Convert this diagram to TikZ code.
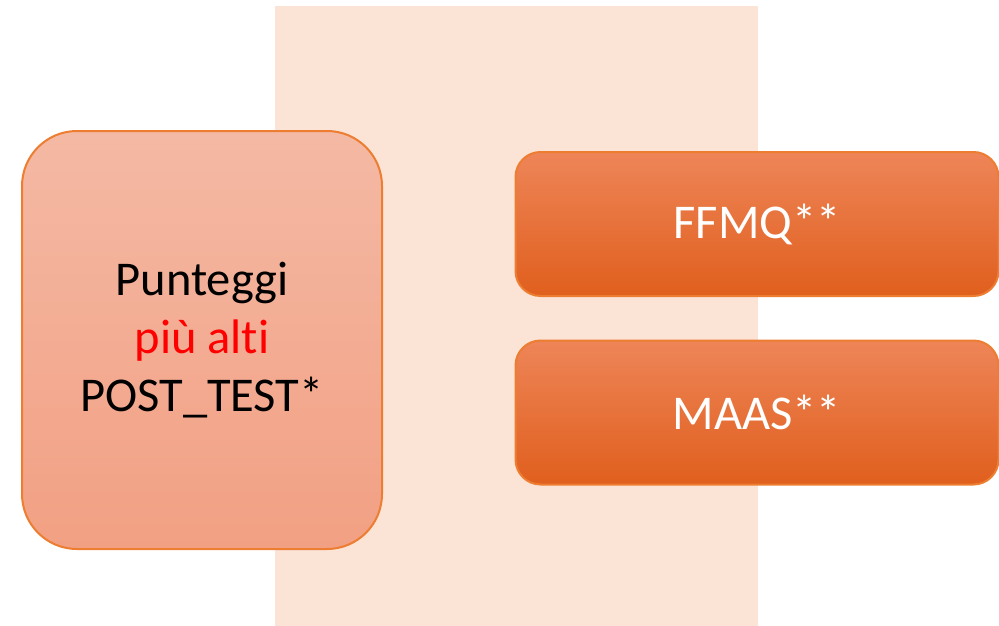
\documentclass[tikz,border=0pt]{standalone}
\usepackage{fontspec}
\setmainfont{Carlito}[Ligatures=NoCommon]
\definecolor{peach}{HTML}{FBE3D6}
\definecolor{edgeor}{HTML}{ED7D31}
\definecolor{ltop}{HTML}{F4B9A4}
\definecolor{lbot}{HTML}{F2A083}
\definecolor{rtop}{HTML}{EE8558}
\definecolor{rmid}{HTML}{F26D2B}
\definecolor{rbot}{HTML}{E05F1D}
\definecolor{redtxt}{HTML}{FF0000}
\tikzset{
  bigbox/.style={draw=edgeor, line width=2pt, rounded corners=55pt, top color=ltop, bottom color=lbot,
    minimum width=360pt, minimum height=418pt, outer sep=0pt, inner sep=0pt, align=center,
    font=\fontsize{48.5}{58}\selectfont, text=black},
  rbox/.style={draw=edgeor, line width=2pt, rounded corners=25pt, top color=rtop, middle color=rmid, bottom color=rbot,
    minimum width=483pt, minimum height=144pt, outer sep=0pt, inner sep=0pt,
    font=\fontsize{48.5}{58}\selectfont, text=white}
}
\begin{document}
\begin{tikzpicture}[x=1pt,y=-1pt]
\useasboundingbox (0,0) rectangle (999,626);
\fill[peach] (275,6) rectangle (758,626);
\node[bigbox] (left) at (202,340) {Punteggi\\\textcolor{redtxt}{più alti}\\POST\_TEST*};
\node[rbox] (ffmq) at (757,224) {FFMQ**};
\node[rbox] (maas) at (757,412.5) {MAAS**};
\end{tikzpicture}
\end{document}
